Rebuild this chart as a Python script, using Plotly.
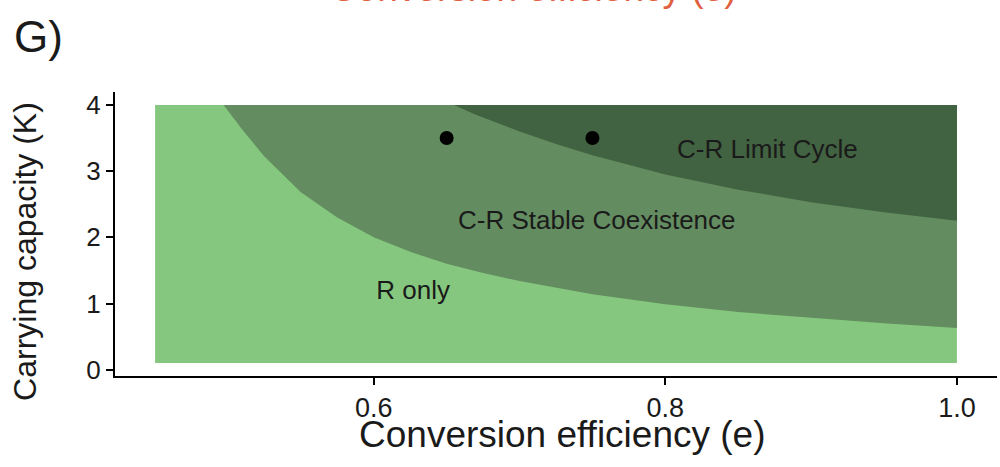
import plotly.graph_objects as go

# Data region
e_range = [0.45, 1.0]
K_range = [0.1, 4.0]

# Boundary between "R only" and "C-R Stable Coexistence"
e_low = [0.497, 0.51, 0.525, 0.55, 0.575, 0.60, 0.625, 0.65, 0.675, 0.70, 0.75, 0.80, 0.85, 0.90, 0.95, 1.00]
K_low = [4.00, 3.62, 3.22, 2.68, 2.30, 2.00, 1.78, 1.60, 1.46, 1.34, 1.14, 0.99, 0.87, 0.78, 0.70, 0.63]

# Boundary between "C-R Stable Coexistence" and "C-R Limit Cycle"
e_hopf = [0.655, 0.67, 0.70, 0.725, 0.75, 0.80, 0.85, 0.90, 0.95, 1.00]
K_hopf = [4.00, 3.85, 3.60, 3.41, 3.24, 2.95, 2.72, 2.53, 2.38, 2.25]

# Example points
pts_e = [0.65, 0.75]
pts_K = [3.5, 3.5]

# Region labels
lab_text = ["R only", "C-R Stable Coexistence", "C-R Limit Cycle"]
lab_e = [0.627, 0.753, 0.87]
lab_K = [1.16, 2.23, 3.3]

col_light = "#85C77E"
col_mid = "#638C60"
col_dark = "#426341"
txt = "#1a1a1a"

fig = go.Figure()

fig.add_trace(go.Scatter(
    x=[e_range[0], e_range[1], e_range[1], e_range[0], e_range[0]],
    y=[K_range[0], K_range[0], K_range[1], K_range[1], K_range[0]],
    fill="toself", fillcolor=col_light, line=dict(width=0), mode="lines",
    hoverinfo="skip", showlegend=False))

fig.add_trace(go.Scatter(
    x=e_low + [e_range[1], e_low[0]],
    y=K_low + [K_range[1], K_range[1]],
    fill="toself", fillcolor=col_mid, line=dict(width=0), mode="lines",
    hoverinfo="skip", showlegend=False))

fig.add_trace(go.Scatter(
    x=e_hopf + [e_range[1], e_hopf[0]],
    y=K_hopf + [K_range[1], K_range[1]],
    fill="toself", fillcolor=col_dark, line=dict(width=0), mode="lines",
    hoverinfo="skip", showlegend=False))

fig.add_trace(go.Scatter(
    x=pts_e, y=pts_K, mode="markers",
    marker=dict(color="black", size=14), hoverinfo="skip", showlegend=False))

fig.add_trace(go.Scatter(
    x=lab_e, y=lab_K, mode="text", text=lab_text,
    textfont=dict(family="Liberation Sans", size=26, color=txt),
    hoverinfo="skip", showlegend=False))

fig.update_layout(
    width=1000, height=467,
    margin=dict(l=115, r=3, t=92, b=91),
    paper_bgcolor="white", plot_bgcolor="white",
    font=dict(family="Liberation Sans", color="black"),
    hovermode=False,
    xaxis=dict(
        range=[0.4225, 1.0275], tickvals=[0.6, 0.8, 1.0], ticktext=["0.6", "0.8", "1.0"],
        showgrid=False, zeroline=False, showline=True, linecolor="black", linewidth=2,
        ticks="outside", ticklen=7, tickwidth=2, tickcolor="black",
        tickfont=dict(size=27, color=txt), automargin=False),
    yaxis=dict(
        range=[-0.095, 4.195], tickvals=[0, 1, 2, 3, 4],
        showgrid=False, zeroline=False, showline=True, linecolor="black", linewidth=2,
        ticks="outside", ticklen=7, tickwidth=2, tickcolor="black",
        tickfont=dict(size=26, color=txt), automargin=False),
    annotations=[
        dict(text="Conversion efficiency (e)", xref="paper", yref="paper", x=0.507, y=-0.205,
             xanchor="center", yanchor="middle", showarrow=False,
             font=dict(size=37, color=txt)),
        dict(text="Carrying capacity (K)", xref="paper", yref="paper", x=-0.102, y=0.437,
             xanchor="center", yanchor="middle", textangle=-90, showarrow=False,
             font=dict(size=32, color=txt)),
        dict(text="G)", xref="paper", yref="paper", x=-0.1168, y=1.29, xanchor="left", yanchor="top",
             showarrow=False, font=dict(size=44, color=txt)),
        dict(text="Conversion efficiency (e)", xref="paper", yref="paper", x=0.475, y=1.286,
             xanchor="center", yanchor="bottom", showarrow=False,
             font=dict(size=37, color="#E0603F")),
    ],
)

fig.write_html("out.html", config={"displayModeBar": False},
               post_script="document.body.style.margin='0';")
